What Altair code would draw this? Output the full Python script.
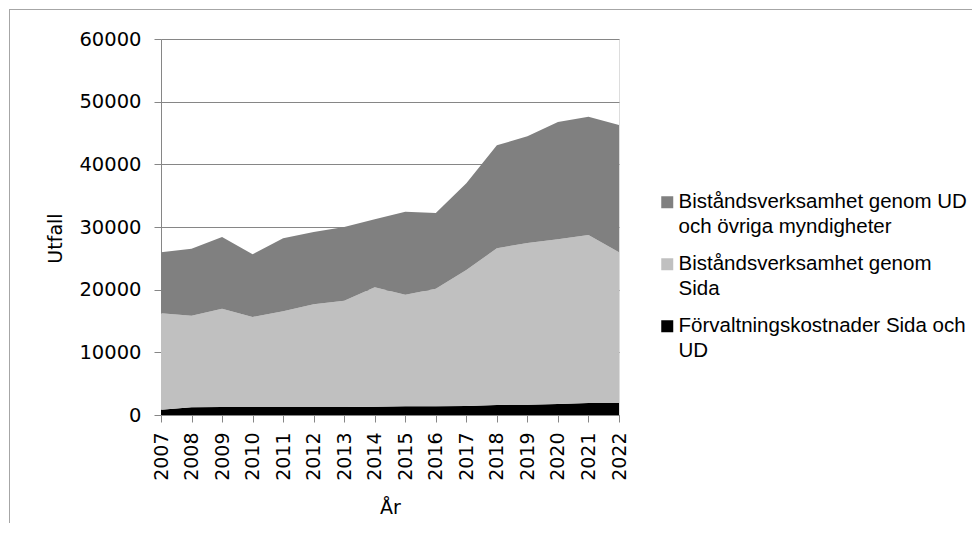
import altair as alt
import pandas as pd

years = ["2007", "2008", "2009", "2010", "2011", "2012", "2013", "2014",
         "2015", "2016", "2017", "2018", "2019", "2020", "2021", "2022"]
ud_ovriga = [9740, 10690, 11430, 10000, 11650, 11540, 11760, 10850,
             13250, 12070, 13830, 16430, 17020, 18720, 18880, 20320]
sida = [15370, 14630, 15690, 14360, 15260, 16380, 16960, 19070,
        17820, 18780, 21700, 25000, 25800, 26270, 26810, 24050]
forvaltning = [850, 1220, 1280, 1280, 1280, 1280, 1280, 1300,
               1380, 1380, 1440, 1600, 1650, 1760, 1910, 1910]

series_names = [
    "Biståndsverksamhet genom UD och övriga myndigheter",
    "Biståndsverksamhet genom Sida",
    "Förvaltningskostnader Sida och UD",
]
series_colors = ["#808080", "#c0c0c0", "#000000"]
y_ticks = [0, 10000, 20000, 30000, 40000, 50000, 60000]

rows = []
for i, yr in enumerate(years):
    rows.append({"year": yr, "serie": series_names[2], "value": forvaltning[i], "ord": 0})
    rows.append({"year": yr, "serie": series_names[1], "value": sida[i], "ord": 1})
    rows.append({"year": yr, "serie": series_names[0], "value": ud_ovriga[i], "ord": 2})
df = pd.DataFrame(rows)

FONT = "DejaVu Sans"
LFONT = "Liberation Sans"
GRAY = "#868686"

label_expr = (
    "datum.label == 'Biståndsverksamhet genom UD och övriga myndigheter' ? "
    "['Biståndsverksamhet genom UD', 'och övriga myndigheter'] : "
    "datum.label == 'Biståndsverksamhet genom Sida' ? "
    "['Biståndsverksamhet genom', 'Sida'] : "
    "['Förvaltningskostnader Sida och', 'UD']"
)

areas = alt.Chart(df).mark_area(opacity=1).encode(
    x=alt.X("year:O", scale=alt.Scale(type="point", padding=0),
            axis=alt.Axis(title="År", labelAngle=-90, labelFontSize=19, labelFont=FONT,
                          labelColor="black", tickSize=7, tickColor=GRAY, domainColor=GRAY,
                          labelPadding=10, titleFontSize=19, titleFont=FONT,
                          titleFontWeight="normal", titleColor="black", titlePadding=18)),
    y=alt.Y("value:Q", stack="zero", scale=alt.Scale(domain=[0, 60000], nice=False),
            axis=alt.Axis(title="Utfall", values=y_ticks, format="d", labelFontSize=19.5,
                          labelFont=FONT, labelColor="black", tickSize=7, tickColor=GRAY,
                          domainColor=GRAY, gridColor=GRAY, gridOpacity=1, labelPadding=13,
                          titleFontSize=19, titleFont=FONT, titleFontWeight="normal",
                          titleColor="black", titleX=-96, titleY=199)),
    color=alt.Color("serie:N",
                    scale=alt.Scale(domain=series_names, range=series_colors),
                    legend=alt.Legend(title=None, orient="none", legendX=496, legendY=153,
                                      symbolType="square", symbolSize=144,
                                      symbolStrokeWidth=0, symbolOpacity=1,
                                      labelFontSize=20.5, labelFont=LFONT, labelColor="black",
                                      labelLimit=500, labelExpr=label_expr, rowPadding=16,
                                      labelOffset=1)),
    order=alt.Order("ord:Q"),
)

border_top = alt.Chart(df).mark_rule(color="#a6a6a6", strokeWidth=1).encode(
    x=alt.value(-151.5), x2=alt.value(830), y=alt.value(-29.5)
)
border_left = alt.Chart(df).mark_rule(color="#a6a6a6", strokeWidth=1).encode(
    x=alt.value(-151.5), y=alt.value(-29.5), y2=alt.value(520)
)

chart = alt.layer(areas, border_top, border_left).properties(
    width=458, height=376,
    autosize=alt.AutoSizeParams(type="none"),
    padding={"left": 153, "top": 31, "right": 353, "bottom": 108},
).configure_view(stroke=None).configure(
    background="white",
    style={"guide-label": {"lineHeight": 25}},
)

chart.save("out.html", embed_options={"renderer": "svg", "actions": False})
